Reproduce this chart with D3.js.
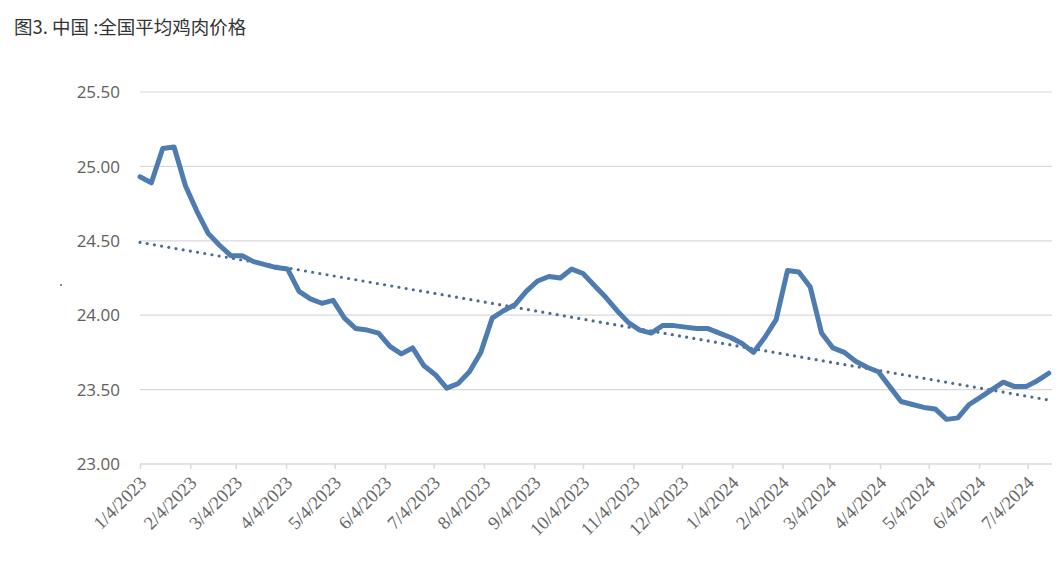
<!DOCTYPE html>
<html>
<head>
<meta charset="utf-8">
<script src="https://cdn.jsdelivr.net/npm/d3@7"></script>
<style>
  html, body { margin: 0; padding: 0; background: #ffffff; }
  svg { display: block; }
</style>
</head>
<body>
<div id="chart"></div>
<script>
// weekly average chicken price, first reading on 4 Jan 2023
const firstWeek = '2023-01-04';
const prices = [
  24.93, 24.89, 25.12, 25.13, 24.87, 24.70, 24.55, 24.47, 24.40, 24.40,
  24.36, 24.34, 24.32, 24.31, 24.16, 24.11, 24.08, 24.10, 23.98, 23.91,
  23.90, 23.88, 23.79, 23.74, 23.78, 23.66, 23.60, 23.51, 23.54, 23.62,
  23.75, 23.98, 24.03, 24.07, 24.16, 24.23, 24.26, 24.25, 24.31, 24.28,
  24.20, 24.12, 24.03, 23.95, 23.90, 23.88, 23.93, 23.93, 23.92, 23.91,
  23.91, 23.88, 23.85, 23.81, 23.75, 23.85, 23.97, 24.30, 24.29, 24.19,
  23.88, 23.78, 23.75, 23.69, 23.65, 23.62, 23.52, 23.42, 23.40, 23.38,
  23.37, 23.30, 23.31, 23.40, 23.45, 23.50, 23.55, 23.52, 23.52, 23.56,
  23.61
];
// linear trend line, value at first and last week
const trendEnds = [24.49, 23.43];

const yTicks = [23.0, 23.5, 24.0, 24.5, 25.0, 25.5];
const xTickLabels = [
  '1/4/2023', '2/4/2023', '3/4/2023', '4/4/2023', '5/4/2023', '6/4/2023',
  '7/4/2023', '8/4/2023', '9/4/2023', '10/4/2023', '11/4/2023', '12/4/2023',
  '1/4/2024', '2/4/2024', '3/4/2024', '4/4/2024', '5/4/2024', '6/4/2024',
  '7/4/2024'
];
const axisEnd = '2024-07-19';
const titleText = '图3. 中国 :全国平均鸡肉价格';

const width = 1063, height = 562;
const plot = { left: 140, right: 1052, top: 92, bottom: 464 };

const parseIso = d3.timeParse('%Y-%m-%d');
const parseMdy = d3.timeParse('%-m/%-d/%Y');
const start = parseIso(firstWeek);
const dates = prices.map((_, i) => d3.timeDay.offset(start, 7 * i));
const tickDates = xTickLabels.map(parseMdy);

const x = d3.scaleTime()
  .domain([start, parseIso(axisEnd)])
  .range([plot.left, plot.right]);
const y = d3.scaleLinear()
  .domain([yTicks[0], yTicks[yTicks.length - 1]])
  .range([plot.bottom, plot.top]);

const svg = d3.select('#chart').append('svg')
  .attr('width', width)
  .attr('height', height);

svg.append('text')
  .attr('x', 14)
  .attr('y', 34)
  .attr('font-family', '"Noto Sans CJK SC", sans-serif')
  .attr('font-size', 18.5)
  .attr('font-weight', 400)
  .attr('fill', '#333333')
  .text(titleText);

// horizontal grid
svg.append('g')
  .selectAll('line')
  .data(yTicks.slice(1))
  .enter()
  .append('line')
  .attr('x1', plot.left)
  .attr('x2', plot.right)
  .attr('y1', d => y(d))
  .attr('y2', d => y(d))
  .attr('stroke', '#d9d9d9')
  .attr('stroke-width', 1.2);

// y labels
svg.append('g')
  .selectAll('text')
  .data(yTicks)
  .enter()
  .append('text')
  .attr('x', 120)
  .attr('y', d => y(d))
  .attr('dy', '0.36em')
  .attr('text-anchor', 'end')
  .attr('font-family', '"Open Sans", sans-serif')
  .attr('font-size', 17)
  .attr('fill', '#606060')
  .text(d => d.toFixed(2));

// stray axis title mark
svg.append('rect')
  .attr('x', 60)
  .attr('y', 284)
  .attr('width', 2)
  .attr('height', 2)
  .attr('fill', '#888888');

// x axis
const xAxis = d3.axisBottom(x)
  .tickValues(tickDates)
  .tickSize(5)
  .tickFormat((d, i) => xTickLabels[i]);

const gx = svg.append('g')
  .attr('transform', `translate(0,${plot.bottom})`)
  .call(xAxis);

gx.select('.domain')
  .attr('stroke', '#d9d9d9')
  .attr('stroke-width', 1.5)
  .attr('d', `M${plot.left},0H${plot.right}`);
gx.selectAll('.tick line')
  .attr('stroke', '#d9d9d9')
  .attr('stroke-width', 1.5);
gx.selectAll('.tick text')
  .attr('font-family', '"Liberation Serif", serif')
  .attr('font-size', 18.5)
  .attr('fill', '#666666')
  .attr('text-anchor', 'end')
  .attr('dy', null)
  .attr('y', null)
  .attr('transform', 'translate(7,20) rotate(-45)');

// trend line (dotted)
const lastDate = dates[dates.length - 1];
svg.append('line')
  .attr('x1', x(start))
  .attr('y1', y(trendEnds[0]))
  .attr('x2', x(lastDate))
  .attr('y2', y(trendEnds[1]))
  .attr('stroke', '#4a6c94')
  .attr('stroke-width', 3.2)
  .attr('stroke-linecap', 'round')
  .attr('stroke-dasharray', '0 7.3');

// price line
const line = d3.line()
  .x((d, i) => x(dates[i]))
  .y(d => y(d));

svg.append('path')
  .datum(prices)
  .attr('d', line)
  .attr('fill', 'none')
  .attr('stroke', '#4f7cb0')
  .attr('stroke-width', 5)
  .attr('stroke-linejoin', 'round')
  .attr('stroke-linecap', 'round');
</script>
</body>
</html>
